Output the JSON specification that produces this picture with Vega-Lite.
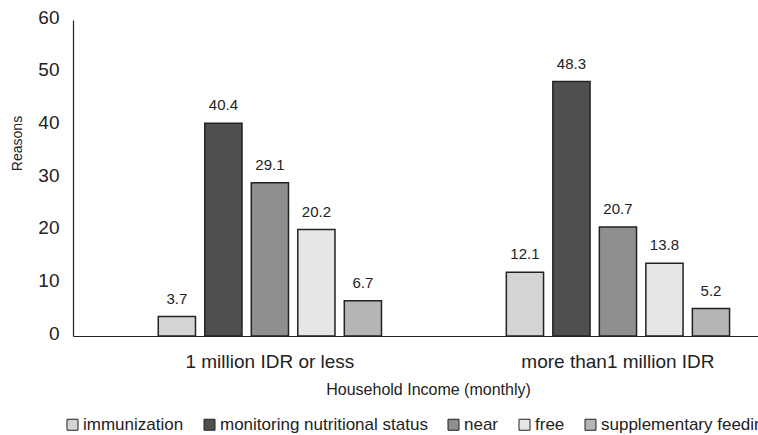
{
  "$schema": "https://vega.github.io/schema/vega-lite/v6.json",
  "width": 685,
  "height": 316,
  "autosize": {"type": "none"},
  "padding": {"left": 73, "top": 20, "right": 0, "bottom": 99},
  "background": "white",
  "config": {"view": {"stroke": null}, "font": "Liberation Sans"},
  "data": {
    "values": [
      {"income": "1 million IDR or less", "reason": "immunization", "value": 3.7},
      {"income": "1 million IDR or less", "reason": "monitoring nutritional status", "value": 40.4},
      {"income": "1 million IDR or less", "reason": "near", "value": 29.1},
      {"income": "1 million IDR or less", "reason": "free", "value": 20.2},
      {"income": "1 million IDR or less", "reason": "supplementary feeding", "value": 6.7},
      {"income": "more than1 million IDR", "reason": "immunization", "value": 12.1},
      {"income": "more than1 million IDR", "reason": "monitoring nutritional status", "value": 48.3},
      {"income": "more than1 million IDR", "reason": "near", "value": 20.7},
      {"income": "more than1 million IDR", "reason": "free", "value": 13.8},
      {"income": "more than1 million IDR", "reason": "supplementary feeding", "value": 5.2}
    ]
  },
  "encoding": {
    "x": {
      "field": "income", "type": "nominal", "sort": null,
      "scale": {"paddingInner": 0.2, "paddingOuter": 0.084, "align": 0.986},
      "axis": {
        "title": "Household Income (monthly)", "labelAngle": 0, "ticks": false,
        "domainColor": "#222", "domainWidth": 1.2,
        "labelFontSize": 19, "labelColor": "#222", "labelPadding": 31, "labelBaseline": "alphabetic",
        "labelLimit": 400,
        "titleFontSize": 16, "titleFontWeight": "normal", "titleColor": "#222",
        "titleX": 355, "titleY": 58, "titleBaseline": "alphabetic"
      }
    },
    "xOffset": {
      "field": "reason", "type": "nominal",
      "sort": ["immunization", "monitoring nutritional status", "near", "free", "supplementary feeding"],
      "scale": {"paddingInner": 0.2, "paddingOuter": 0.594}
    },
    "y": {
      "field": "value", "type": "quantitative",
      "scale": {"domain": [0, 60], "nice": false},
      "axis": {
        "title": "Reasons", "ticks": false, "grid": false,
        "domainColor": "#222", "domainWidth": 1.2,
        "values": [0, 10, 20, 30, 40, 50, 60],
        "labelFontSize": 19, "labelColor": "#222", "labelPadding": 14, "labelOffset": -3,
        "titleFontSize": 14, "titleFontWeight": "normal", "titleColor": "#222",
        "titleX": -56, "titleY": 123, "titleBaseline": "middle", "titleAngle": -90
      }
    }
  },
  "layer": [
    {
      "mark": {"type": "bar", "stroke": "#222", "strokeWidth": 1.5},
      "encoding": {
        "fill": {
          "field": "reason", "type": "nominal",
          "sort": ["immunization", "monitoring nutritional status", "near", "free", "supplementary feeding"],
          "scale": {
            "domain": ["immunization", "monitoring nutritional status", "near", "free", "supplementary feeding"],
            "range": ["#d4d4d4", "#4f4f4f", "#8f8f8f", "#e6e6e6", "#b5b5b5"]
          },
          "legend": {
            "title": null, "orient": "none", "legendX": -9, "legendY": 396,
            "direction": "horizontal", "columns": 5,
            "symbolType": "square", "symbolSize": 121, "symbolStrokeColor": "#222", "symbolStrokeWidth": 1,
            "symbolOpacity": 1,
            "labelFontSize": 17, "labelColor": "#222", "labelLimit": 400, "labelOffset": 2,
            "columnPadding": 17
          }
        }
      }
    },
    {
      "mark": {"type": "text", "baseline": "alphabetic", "dy": -13, "fontSize": 15, "color": "#222"},
      "encoding": {"text": {"field": "value", "type": "quantitative", "format": ".1f"}}
    }
  ]
}
